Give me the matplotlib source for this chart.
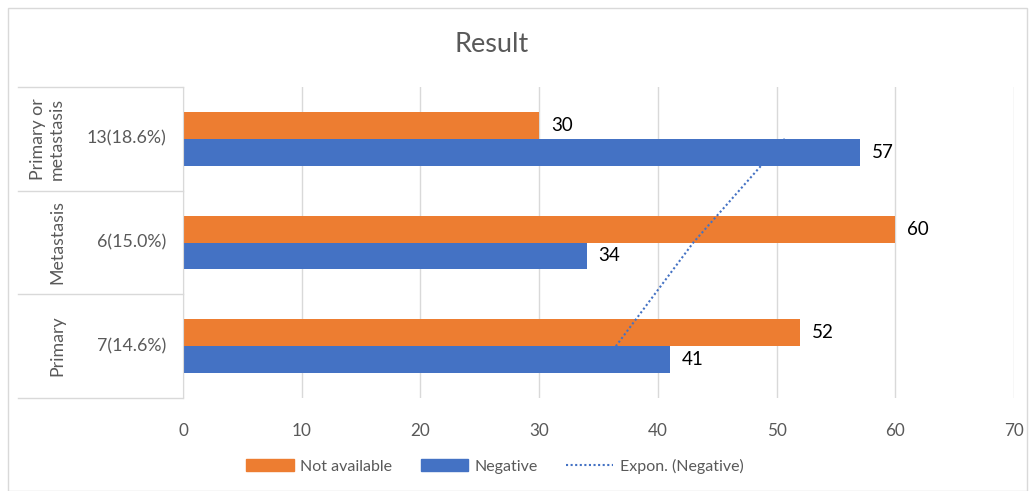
import numpy as np
import matplotlib.pyplot as plt
from matplotlib.lines import Line2D
from matplotlib.patches import Patch, Rectangle

plt.rcParams['font.family'] = ['Lato', 'DejaVu Sans']

# Data (bottom to top)
groups = ['Primary', 'Metastasis', 'Primary or\nmetastasis']
sublabels = ['7(14.6%)', '6(15.0%)', '13(18.6%)']
not_available = [52, 60, 30]
negative = [41, 34, 57]

orange = '#ED7D31'
blue = '#4472C4'
grey = '#595959'
line_grey = '#D9D9D9'

fig = plt.figure(figsize=(10.35, 4.91), dpi=100)
ax = fig.add_axes([183 / 1035, 93 / 491, 831 / 1035, 311 / 491])

y = np.arange(len(groups))
h = 0.26
ax.barh(y + h / 2, not_available, height=h, color=orange, zorder=2)
ax.barh(y - h / 2, negative, height=h, color=blue, zorder=4)

# exponential trendline on the Negative series (x = category 1..3)
xs = np.arange(1, len(negative) + 1)
b, a = np.polyfit(xs, np.log(negative), 1)
trend = np.exp(a + b * xs)
ax.plot(trend, y, color=blue, linestyle=(0, (1, 1.2)), linewidth=1.5, zorder=3)

# data labels
for yi, v in zip(y, not_available):
    ax.text(v + 1.0, yi + h / 2, str(v), va='center', ha='left', fontsize=13.5, color='black')
for yi, v in zip(y, negative):
    ax.text(v + 1.0, yi - h / 2, str(v), va='center', ha='left', fontsize=13.5, color='black')

ax.set_xlim(0, 70)
ax.set_ylim(-0.5, 2.5)
ax.set_xticks(range(0, 71, 10))
ax.tick_params(axis='x', length=0, pad=18, labelsize=12.3, labelcolor=grey)
ax.set_yticks([])
ax.grid(axis='x', color=line_grey, linewidth=1, zorder=0)
for s in ['top', 'right', 'bottom']:
    ax.spines[s].set_visible(False)
ax.spines['left'].set_color(line_grey)
ax.spines['left'].set_zorder(5)

# multi-level category axis
trans = ax.get_yaxis_transform()
x_left = (18 - 183) / 831
for yb in [-0.5, 0.5, 1.5, 2.5]:
    ax.add_line(Line2D([x_left, 0], [yb, yb], transform=trans, color=line_grey,
                       linewidth=1, clip_on=False))
for yi, lab in zip(y, sublabels):
    ax.text((166 - 183) / 831, yi, lab, transform=trans, ha='right', va='center',
            fontsize=12.8, color=grey)
for yi, lab in zip(y, groups):
    ax.text((65 - 183) / 831, yi, lab, transform=trans, ha='right', va='center',
            rotation=90, fontsize=12.8, color=grey, linespacing=1.2, multialignment='center')

fig.text(492 / 1035, 1 - 45 / 491, 'Result', ha='center', va='center', fontsize=19.5, color=grey)

# legend
handles = [Patch(color=orange), Patch(color=blue),
           Line2D([], [], color=blue, linestyle=(0, (1, 1.2)), linewidth=1.5)]
fig.legend(handles, ['Not available', 'Negative', 'Expon. (Negative)'],
           loc='center', bbox_to_anchor=(495 / 1035, 1 - 466 / 491), ncol=3, frameon=False,
           fontsize=11.5, labelcolor=grey, handlelength=2.95, handleheight=0.7,
           columnspacing=1.8, handletextpad=0.4)

# chart border
fig.patches.append(Rectangle((8 / 1035, 0), 1 - 16 / 1035, 1 - 8 / 491, transform=fig.transFigure,
                             fill=False, edgecolor=line_grey, linewidth=1))

fig.savefig('out.png', dpi=100)
